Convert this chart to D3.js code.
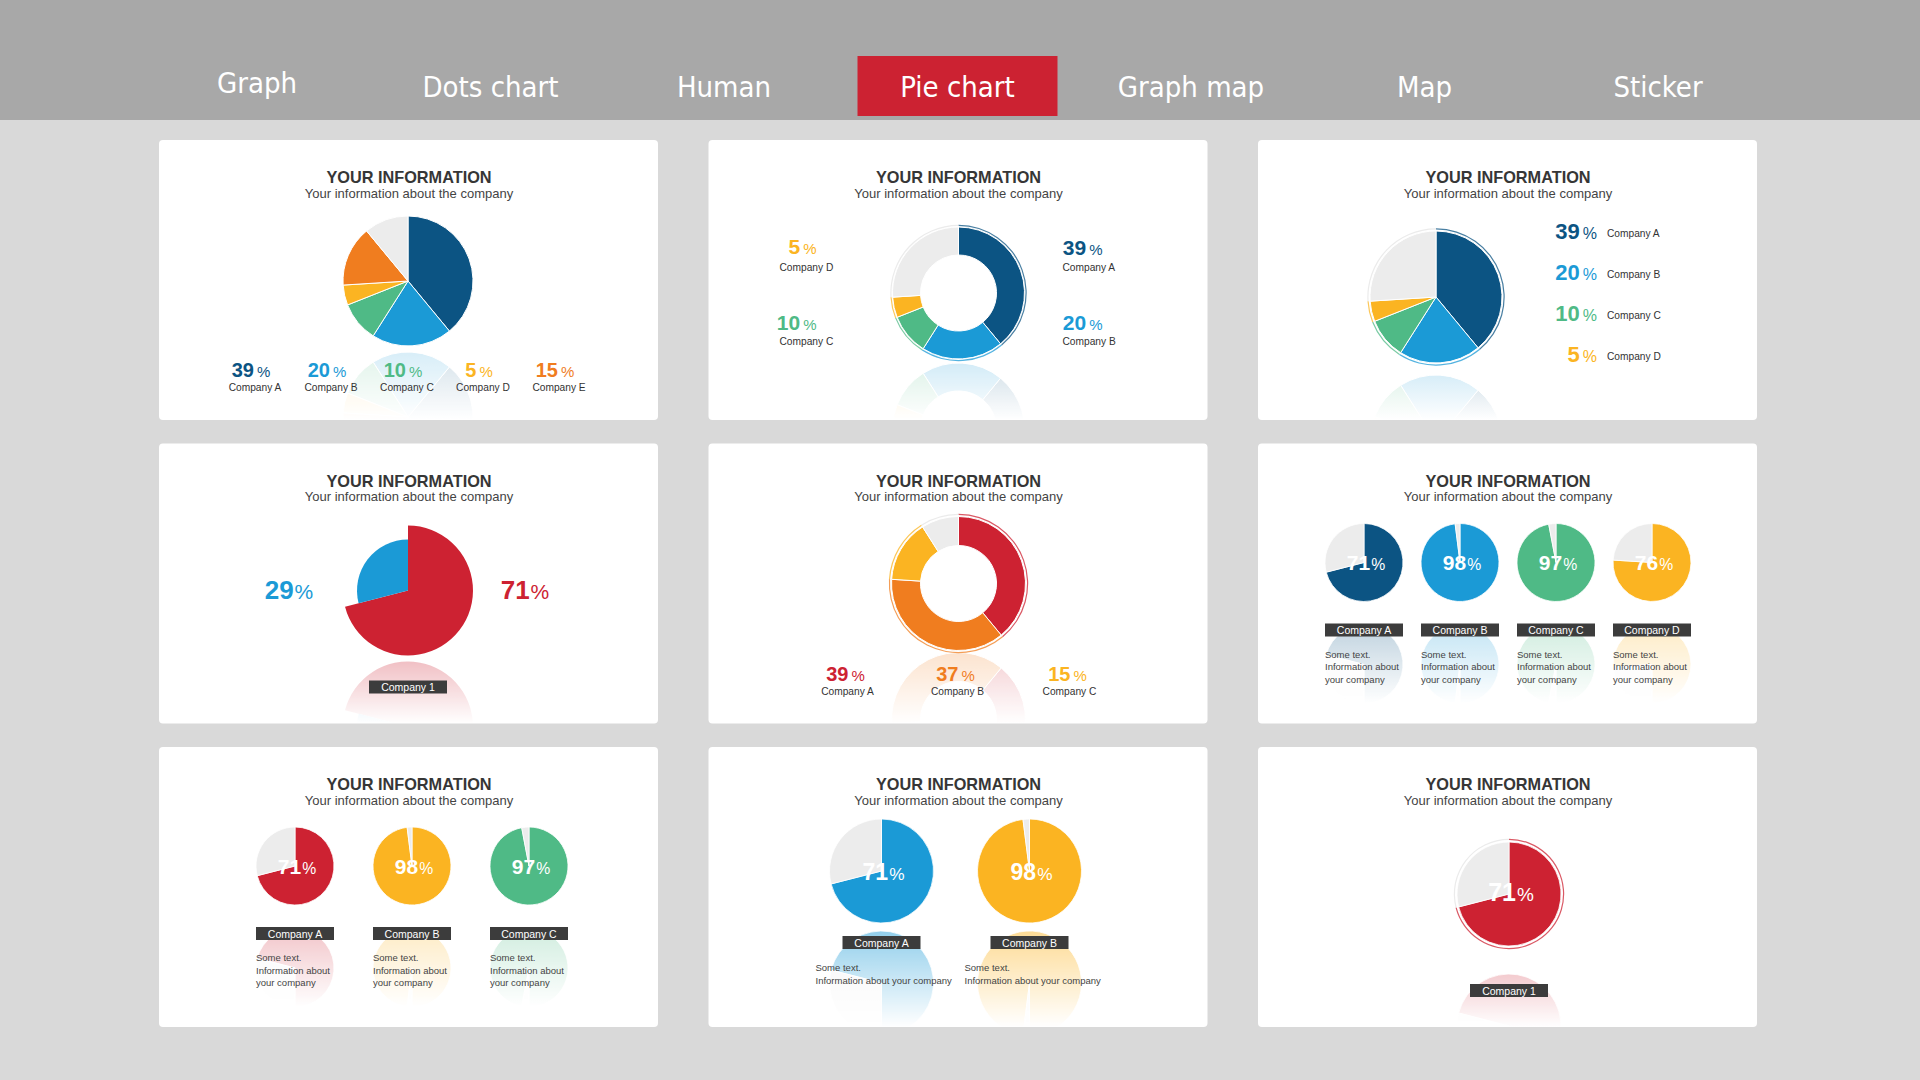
<!DOCTYPE html>
<html><head><meta charset="utf-8">
<script src="https://cdn.jsdelivr.net/npm/d3@7"></script>
<style>
html,body{margin:0;padding:0;background:#d9d9d9;}
svg{display:block;}
</style></head><body>
<svg id="c" width="1920" height="1080"></svg>
<script>
// ---------------- DATA ----------------
const navItems = ["Graph", "Dots chart", "Human", "Pie chart", "Graph map", "Map", "Sticker"];
const activeNav = "Pie chart";
const titleText = "YOUR INFORMATION";
const subtitleText = "Your information about the company";

const p1Labels = ["Company A", "Company B", "Company C", "Company D", "Company E"];
const p1Values = [39, 20, 10, 5, 15];
const p2Labels = ["Company A", "Company B", "Company C", "Company D"];
const p2Values = [39, 20, 10, 5];
const p3Labels = ["Company A", "Company B", "Company C", "Company D"];
const p3Values = [39, 20, 10, 5];
const p4Values = [71, 29];
const p4Label = "Company 1";
const p5Labels = ["Company A", "Company B", "Company C"];
const p5Values = [39, 37, 15];
const p6Labels = ["Company A", "Company B", "Company C", "Company D"];
const p6Values = [71, 98, 97, 76];
const p7Labels = ["Company A", "Company B", "Company C"];
const p7Values = [71, 98, 97];
const p8Labels = ["Company A", "Company B"];
const p8Values = [71, 98];
const p9Values = [71];
const p9Label = "Company 1";
const someText3 = ["Some text.", "Information about", "your company"];
const someText2 = ["Some text.", "Information about your company"];

// ---------------- STYLE ----------------
const NAVY = "#0c5483", BLUE = "#1b9ad6", GREEN = "#4fba86", YELLOW = "#fbb422",
      ORANGE = "#f07d1f", RED = "#cd2232", GRAY = "#ececec";
const FONT = "'Liberation Sans', Arial, sans-serif";

const svg = d3.select("#c");
const defs = svg.append("defs");
let uid = 0;

// top bar
svg.append("rect").attr("x", 0).attr("y", 0).attr("width", 1920).attr("height", 120).attr("fill", "#a8a8a8");
const navX = d3.scalePoint().domain(navItems).range([257, 1658]);
svg.append("rect").attr("x", navX(activeNav) - 100).attr("y", 56).attr("width", 200).attr("height", 60).attr("fill", "#cc2232");
svg.selectAll("text.nav").data(navItems).join("text")
  .attr("class", "nav")
  .attr("x", d => navX(d)).attr("y", (d, i) => i === 0 ? 93 : 97)
  .attr("text-anchor", "middle")
  .attr("font-family", "'DejaVu Sans Condensed', 'DejaVu Sans', sans-serif")
  .attr("font-stretch", "condensed")
  .attr("font-size", 29).attr("fill", "#fff").text(d => d);

// panels
const colX = d3.scalePoint().domain([0, 1, 2]).range([159, 1258]);
const rowY = d3.scalePoint().domain([0, 1, 2]).range([140, 747]);
const PW = 499, PH = 280;

function panel(i) {
  const col = i % 3, row = Math.floor(i / 3);
  const g = svg.append("g").attr("transform", `translate(${colX(col)},${rowY(row)})`);
  g.append("rect").attr("width", PW).attr("height", PH).attr("rx", 4).attr("fill", "#fff");
  g.append("text").attr("x", 250).attr("y", 43).attr("text-anchor", "middle")
    .attr("font-family", FONT).attr("font-weight", "bold").attr("font-size", 16.3).attr("fill", "#363636").text(titleText);
  g.append("text").attr("x", 250).attr("y", 57.5).attr("text-anchor", "middle")
    .attr("font-family", FONT).attr("font-size", 13).attr("fill", "#444").text(subtitleText);
  return g;
}

function withRest(vals) {
  const s = d3.sum(vals);
  return vals.map((v, i) => ({v, i, rest: false})).concat(s < 100 ? [{v: 100 - s, i: -1, rest: true}] : []);
}

// draw pie into group at cx,cy
function pieMarks(g, cx, cy, vals, colors, opt) {
  const data = d3.pie().sort(null).value(d => d.v).startAngle(0).endAngle(2 * Math.PI)(withRest(vals));
  const inner = opt.inner || 0;
  const arc = d3.arc().innerRadius(inner).outerRadius(d => opt.radii ? opt.radii[d.data.i < 0 ? opt.radii.length - 1 : d.data.i] : opt.r);
  const gg = g.append("g").attr("transform", `translate(${cx},${cy})`);
  gg.selectAll("path.s").data(data).join("path").attr("class", "s")
    .attr("d", arc)
    .attr("fill", d => d.data.rest ? GRAY : colors[d.data.i])
    .attr("stroke", "#fff").attr("stroke-width", opt.sw == null ? 1 : opt.sw);
  if (opt.ring) {
    const ringArc = d3.arc().innerRadius(opt.r + opt.ring).outerRadius(opt.r + opt.ring + 1.2);
    gg.selectAll("path.r").data(data).join("path").attr("class", "r")
      .attr("d", ringArc)
      .attr("fill", d => d.data.rest ? "#e4e4e4" : colors[d.data.i]).attr("opacity", 0.75);
  }
  return gg;
}

function pie(g, cx, cy, vals, colors, opt) {
  // reflection
  if (opt.axis) {
    const id = "m" + (uid++);
    const gid = "gr" + id;
    const lg = defs.append("linearGradient").attr("id", gid).attr("x1", 0).attr("y1", 0).attr("x2", 0).attr("y2", 1);
    lg.append("stop").attr("offset", 0).attr("stop-color", "#fff").attr("stop-opacity", opt.refOp || 0.28);
    lg.append("stop").attr("offset", 1).attr("stop-color", "#fff").attr("stop-opacity", 0);
    const R = opt.r + 6;
    const m = defs.append("mask").attr("id", id).attr("maskUnits", "userSpaceOnUse")
      .attr("x", 0).attr("y", 0).attr("width", PW).attr("height", PH);
    m.append("rect").attr("x", cx - R).attr("y", opt.axis).attr("width", 2 * R).attr("height", Math.min(PH - opt.axis, opt.refH || R * 1.3)).attr("fill", `url(#${gid})`);
    const rg = g.append("g").attr("mask", `url(#${id})`);
    const inner = rg.append("g").attr("transform", `translate(0,${2 * opt.axis}) scale(1,-1)`);
    pieMarks(inner, cx, cy, vals, colors, Object.assign({}, opt, {ring: 0}));
  }
  return pieMarks(g, cx, cy, vals, colors, opt);
}

function pctText(g, x, y, val, color, numSize, pctSize, anchor, gap) {
  const t = g.append("text").attr("x", x).attr("y", y).attr("text-anchor", anchor || "middle")
    .attr("font-family", FONT).attr("fill", color);
  t.append("tspan").attr("font-weight", "bold").attr("font-size", numSize).text(val);
  t.append("tspan").attr("font-size", pctSize).attr("dx", gap == null ? 3 : gap).text("%");
  return t;
}
function label(g, x, y, txt, anchor, size) {
  return g.append("text").attr("x", x).attr("y", y).attr("text-anchor", anchor || "middle")
    .attr("font-family", FONT).attr("font-size", size || 10.2).attr("fill", "#333").text(txt);
}
function darkBox(g, cx, y, txt) {
  g.append("rect").attr("x", cx - 39).attr("y", y).attr("width", 78).attr("height", 13).attr("fill", "#3c3c3c");
  g.append("text").attr("x", cx).attr("y", y + 10.5).attr("text-anchor", "middle")
    .attr("font-family", FONT).attr("font-size", 10.5).attr("fill", "#fff").text(txt);
}
function lines(g, x, y0, arr) {
  arr.forEach((s, k) => g.append("text").attr("x", x).attr("y", y0 + k * 12.5)
    .attr("font-family", FONT).attr("font-size", 9.5).attr("fill", "#444").text(s));
}

// ---- Panel 1
{
  const g = panel(0);
  const cols = [NAVY, BLUE, GREEN, YELLOW, ORANGE];
  pie(g, 249, 141, p1Values, cols, {r: 65, axis: 209, refOp: 0.18});
  const lx = d3.scalePoint().domain(p1Labels).range([96, 400]);
  p1Labels.forEach((c, i) => {
    pctText(g, lx(c) - 4, 237, p1Values[i], cols[i], 20, 15);
    label(g, lx(c), 251, c);
  });
}
// ---- Panel 2
{
  const g = panel(1);
  const cols = [NAVY, BLUE, GREEN, YELLOW];
  pie(g, 250, 153, p2Values, cols, {r: 66, inner: 38, axis: 221, refOp: 0.2, ring: 1});
  const pos = [[394, 115, 354, 131], [394, 190, 354, 205], [108, 190, 71, 205], [108, 114, 71, 131]];
  p2Labels.forEach((c, i) => {
    const p = pos[i];
    pctText(g, p[0], p[1], p2Values[i], cols[i], 21, 15, "end");
    label(g, p[2], p[3], c, "start");
  });
}
// ---- Panel 3
{
  const g = panel(2);
  const cols = [NAVY, BLUE, GREEN, YELLOW];
  pie(g, 178, 157, p3Values, cols, {r: 66, axis: 229, refOp: 0.2, ring: 1.5});
  const ly = d3.scalePoint().domain(p3Labels).range([99, 222]);
  p3Labels.forEach((c, i) => {
    pctText(g, 339, ly(c), p3Values[i], cols[i], 22, 16, "end");
    label(g, 349, ly(c) - 2, c, "start");
  });
}
// ---- Panel 4
{
  const g = panel(3);
  const cols = [RED, BLUE];
  pie(g, 249, 147, p4Values, cols, {radii: [65, 51], r: 65, axis: 215, refOp: 0.3, sw: 0});
  pctText(g, 130, 155, p4Values[1], BLUE, 26, 21, "middle", 1);
  pctText(g, 366, 155, p4Values[0], RED, 26, 21, "middle", 1);
  darkBox(g, 249, 237, p4Label);
}
// ---- Panel 5
{
  const g = panel(4);
  const cols = [RED, ORANGE, YELLOW];
  pie(g, 250, 140, p5Values, cols, {r: 67, inner: 38, axis: 208, refOp: 0.22, ring: 1.5});
  const lx = [139, 249, 361];
  p5Labels.forEach((c, i) => {
    pctText(g, lx[i] - 2, 237, p5Values[i], cols[i], 20, 15);
    label(g, lx[i], 251, c);
  });
}
// small pies with labels
function smallRow(g, names, vals, cols, xs, cy, r, axis, boxY, textX, textY, txtLines, numSize, refOp, refH) {
  names.forEach((c, i) => {
    pie(g, xs[i], cy, [vals[i]], [cols[i]], {r, axis, refOp, sw: 0.8, refH: refH || 90});
    pctText(g, xs[i] + 2, cy + numSize * 0.38, vals[i], "#fff", numSize, numSize * 0.75, "middle", 1);
    darkBox(g, xs[i], boxY, c);
    lines(g, textX[i], textY, txtLines);
  });
}
// ---- Panel 6
{
  const g = panel(5);
  const xs = [106, 202, 298, 394];
  smallRow(g, p6Labels, p6Values, [NAVY, BLUE, GREEN, YELLOW], xs, 119, 39, 170, 180, xs.map(x => x - 39), 214, someText3, 21, 0.3);
}
// ---- Panel 7
{
  const g = panel(6);
  const xs = [136, 253, 370];
  smallRow(g, p7Labels, p7Values, [RED, YELLOW, GREEN], xs, 119, 39, 170, 180, xs.map(x => x - 39), 214, someText3, 21, 0.3);
}
// ---- Panel 8
{
  const g = panel(7);
  const xs = [173, 321];
  smallRow(g, p8Labels, p8Values, [BLUE, YELLOW], xs, 124, 52, 180, 189, [107, 256], 224, someText2, 23, 0.5, 110);
}
// ---- Panel 9
{
  const g = panel(8);
  pie(g, 251, 147, p9Values, [RED], {r: 52, axis: 213, refOp: 0.3, ring: 2, sw: 0.8});
  pctText(g, 253, 154, p9Values[0], "#fff", 25, 19, "middle", 1);
  darkBox(g, 251, 237, p9Label);
}
</script>
</body></html>
